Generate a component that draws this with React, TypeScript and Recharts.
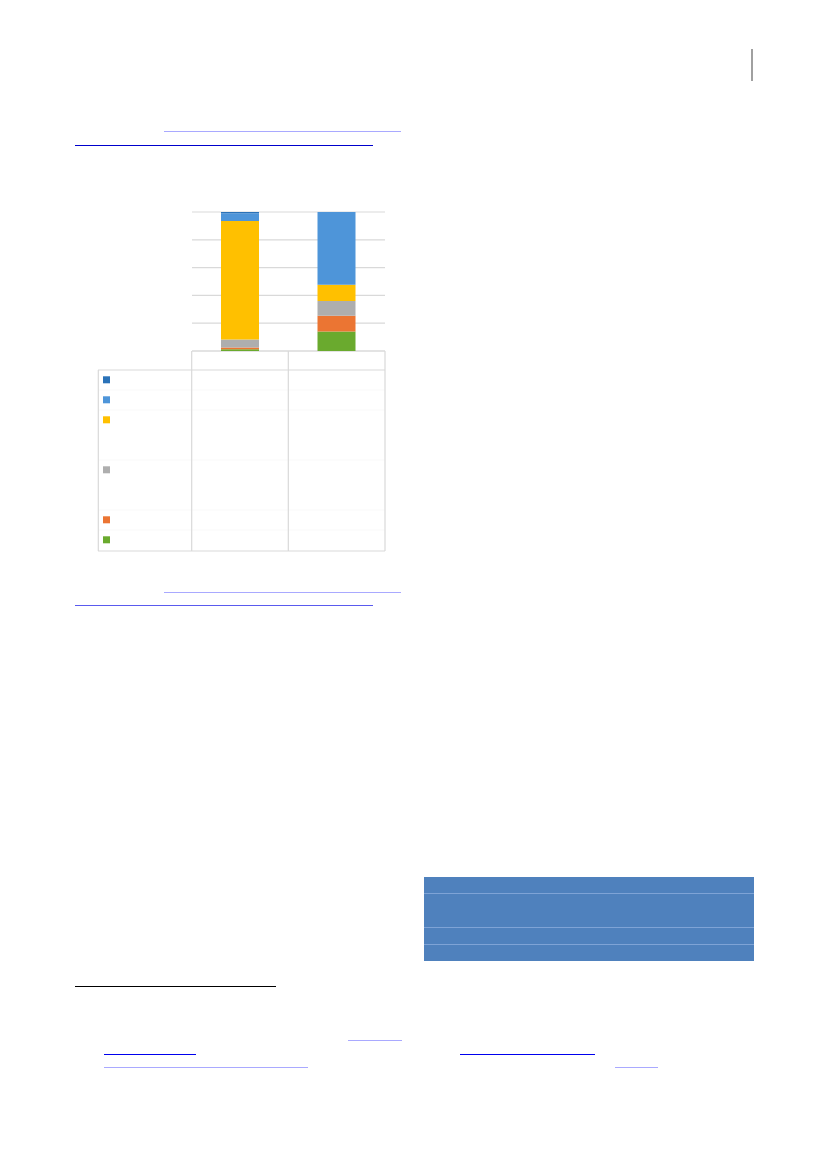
import React from 'react';
import { BarChart, Bar, XAxis, YAxis, CartesianGrid } from 'recharts';

// ---- data ----
const categories = ['Catégorie 1', 'Catégorie 2'];
const greenValues = [1.3, 14.0];
const orangeValues = [1.3, 11.3];
const grayValues = [5.6, 10.6];
const yellowValues = [85.3, 11.8];
const blueValues = [5.6, 52.3];
const darkBlueValues = [0.9, 0];
const yTicks = [0, 0.2, 0.4, 0.6, 0.8, 1];

// series, bottom of stack first
const seriesDefs = [
  { key: 'green', values: greenValues, color: '#6aaa2e' },
  { key: 'orange', values: orangeValues, color: '#eb7533' },
  { key: 'gray', values: grayValues, color: '#aeaeae' },
  { key: 'yellow', values: yellowValues, color: '#ffc000' },
  { key: 'blue', values: blueValues, color: '#4e95d9' },
  { key: 'darkBlue', values: darkBlueValues, color: '#2a72b8' },
];

const data = categories.map((c, i) => {
  const row: Record<string, string | number> = { cat: c };
  seriesDefs.forEach((s) => {
    row[s.key] = s.values[i];
  });
  return row;
});

// ---- layout (data table rows of the chart, legend order top -> bottom) ----
const rowLines = [370, 390, 410, 460, 510, 530, 551];
const legendOrder = [...seriesDefs].reverse();
const GRID = '#d9d9d9';

const Line = ({ x1, x2, y, color, h = 1 }: { x1: number; x2: number; y: number; color: string; h?: number }) => (
  <div style={{ position: 'absolute', left: x1, top: y, width: x2 - x1, height: h, background: color }} />
);

export default function App() {
  return (
    <div style={{ position: 'absolute', left: 0, top: 0, width: 827, height: 1169, background: '#fff', overflow: 'hidden' }}>
      {/* page decorations */}
      <div style={{ position: 'absolute', left: 751, top: 49, width: 1.5, height: 32, background: '#a0a0a0' }} />
      <Line x1={164} x2={401} y={131} color="#a9a9ff" h={1.3} />
      <Line x1={75} x2={373} y={144.5} color="#0000cc" h={1.2} />
      <Line x1={164} x2={401} y={591.5} color="#a9a9ff" h={1.3} />
      <Line x1={75} x2={373} y={604.8} color="#5a5aee" h={1.2} />
      <Line x1={75} x2={276} y={985.5} color="#000" h={1} />
      <Line x1={348} x2={402} y={1040} color="#a9a9ff" h={1.3} />
      <Line x1={104} x2={196} y={1053.5} color="#0000ee" h={1.2} />
      <Line x1={460} x2={595} y={1053.5} color="#0000ee" h={1.2} />
      <Line x1={104} x2={308} y={1067} color="#a9a9ff" h={1.3} />
      <Line x1={615} x2={658} y={1067} color="#a9a9ff" h={1.3} />

      {/* blue table bottom right */}
      <div style={{ position: 'absolute', left: 424, top: 877, width: 330, height: 84, background: '#4f81bd' }} />
      <Line x1={424} x2={754} y={893} color="#7ea3d6" h={1} />
      <Line x1={424} x2={754} y={927} color="#7ea3d6" h={1} />
      <Line x1={424} x2={754} y={944} color="#7ea3d6" h={1} />

      {/* chart data table */}
      <svg style={{ position: 'absolute', left: 0, top: 0 }} width={827} height={1169}>
        {rowLines.slice(1, -1).map((y) => (
          <line key={y} x1={98} x2={385} y1={y} y2={y} stroke="#f9f9f9" strokeWidth={1} />
        ))}
        <line x1={192} x2={385} y1={351} y2={351} stroke={GRID} strokeWidth={1.2} />
        <line x1={98} x2={385} y1={370} y2={370} stroke={GRID} strokeWidth={1.2} />
        <line x1={98} x2={385} y1={551} y2={551} stroke={GRID} strokeWidth={1.2} />
        <line x1={98.3} x2={98.3} y1={370} y2={551} stroke={GRID} strokeWidth={1.2} />
        <line x1={191.7} x2={191.7} y1={351} y2={551} stroke={GRID} strokeWidth={1.2} />
        <line x1={288.3} x2={288.3} y1={351} y2={551} stroke={GRID} strokeWidth={1.2} />
        <line x1={385} x2={385} y1={351} y2={551} stroke={GRID} strokeWidth={1.2} />
        {legendOrder.map((s, i) => (
          <rect key={s.key} x={103} y={rowLines[i] + 6.3} width={7} height={7} fill={s.color} />
        ))}
      </svg>

      <div style={{ position: 'absolute', left: 182, top: 202 }}>
        <BarChart
          width={213}
          height={159}
          data={data}
          stackOffset="expand"
          margin={{ top: 10, right: 10, bottom: 10, left: 10 }}
          barSize={38}
        >
          <CartesianGrid vertical={false} stroke={GRID} strokeWidth={1.2} />
          <XAxis dataKey="cat" hide />
          <YAxis hide domain={[0, 1]} ticks={yTicks} />
          {seriesDefs.map((s) => (
            <Bar key={s.key} dataKey={s.key} stackId="a" fill={s.color} isAnimationActive={false} />
          ))}
        </BarChart>
      </div>
    </div>
  );
}
